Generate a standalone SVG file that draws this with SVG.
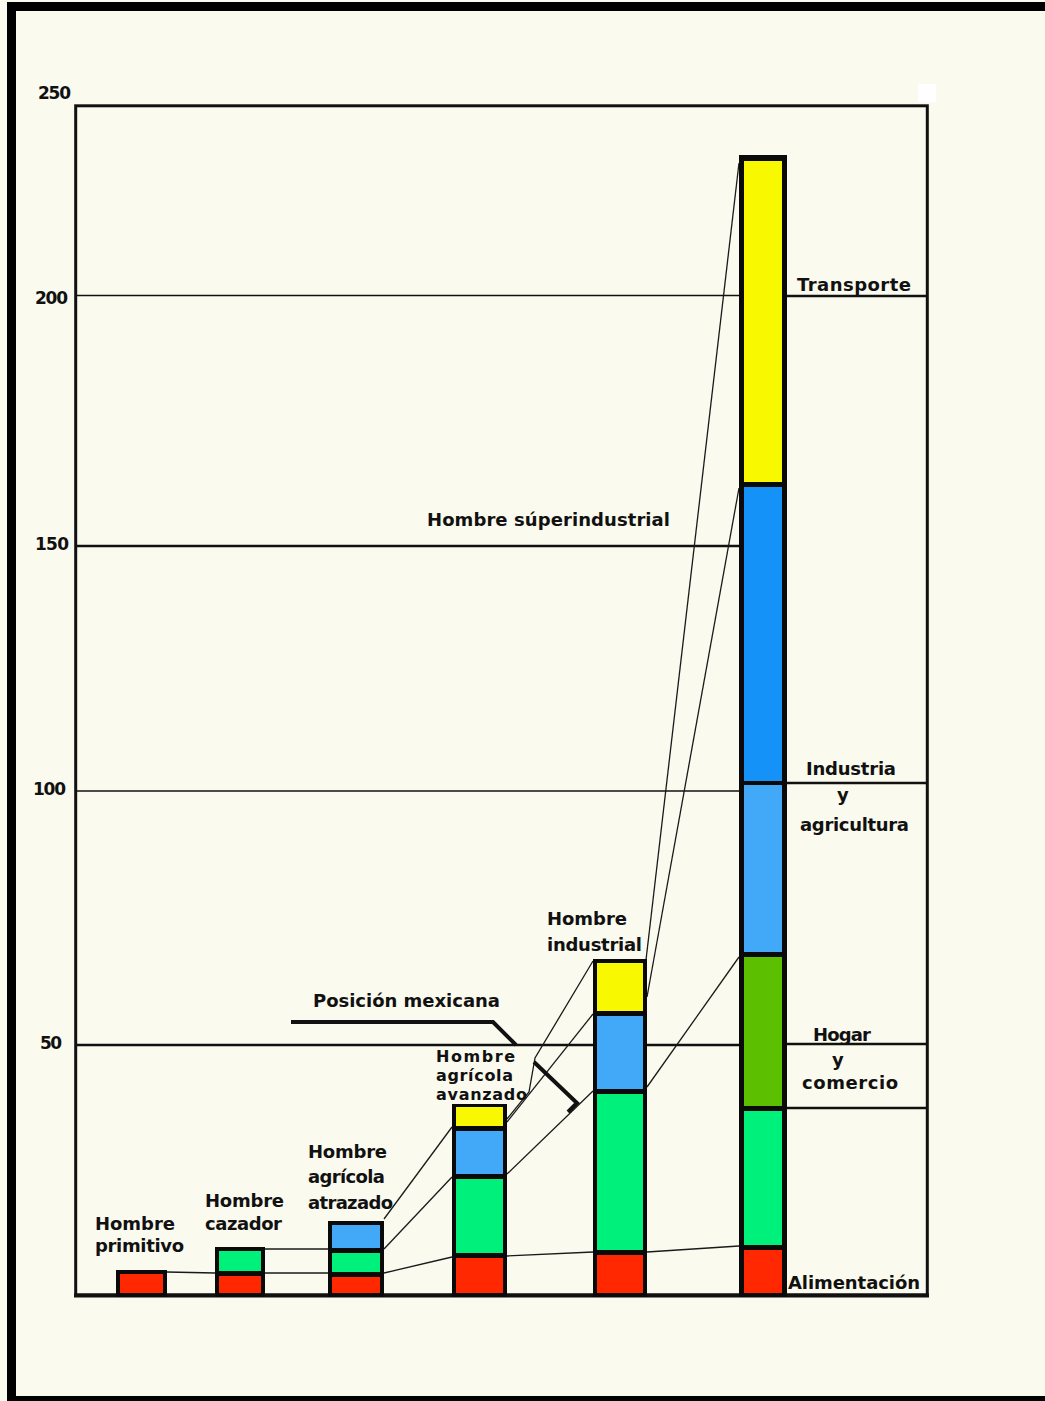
<svg xmlns="http://www.w3.org/2000/svg" width="1045" height="1401" viewBox="0 0 1045 1401">
<style>
.t{font-family:"DejaVu Sans","Liberation Sans",sans-serif;font-weight:bold;font-size:18px;fill:#111}
.ts{font-family:"DejaVu Sans","Liberation Sans",sans-serif;font-weight:bold;font-size:16px;fill:#111}
.ax{font-family:"DejaVu Sans","Liberation Sans",sans-serif;font-weight:bold;font-size:17px;fill:#111}
.c{stroke:#1a1a1a;stroke-width:1.3;fill:none}
.g{stroke:#111;fill:none}
.ptr{stroke:#111;stroke-width:4;fill:none;stroke-linejoin:miter}
.k{fill:#0a0a0a}
.y{fill:#F8F800}.b{fill:#1492F8}.lb{fill:#42A8F8}.dg{fill:#5CC000}.lg{fill:#00F07C}.r{fill:#FF2800}
</style>
<rect width="1045" height="1401" fill="#FAFAEE"/>
<g id="frame">
<rect x="7" y="2" width="1038" height="9" fill="#000"/>
<rect x="7" y="2" width="9" height="1399" fill="#000"/>
<rect x="7" y="1396" width="1038" height="5" fill="#000"/>
<rect x="918" y="84" width="18" height="18" fill="#fff"/>
</g>
<g id="grid">
<line class="g" x1="77" y1="295.5" x2="739" y2="295.5" stroke-width="1.5"/>
<line class="g" x1="77" y1="546" x2="739" y2="546" stroke-width="2.5"/>
<line class="g" x1="77" y1="791" x2="739" y2="791" stroke-width="1.5"/>
<line class="g" x1="77" y1="1045" x2="739" y2="1045" stroke-width="2.5"/>
<line class="g" x1="787" y1="296" x2="926" y2="296" stroke-width="2.5"/>
<line class="g" x1="787" y1="783" x2="926" y2="783" stroke-width="2.5"/>
<line class="g" x1="787" y1="1044" x2="926" y2="1044" stroke-width="2.5"/>
<line class="g" x1="787" y1="1108" x2="926" y2="1108" stroke-width="2.5"/>
<rect class="g" x="75.7" y="105.8" width="851.6" height="1189.2" stroke-width="3"/>
<line class="g" x1="74" y1="1295.5" x2="929" y2="1295.5" stroke-width="4"/>
</g>
<g id="axis-labels">
<text class="ax" x="38" y="99" textLength="33">250</text>
<text class="ax" x="35" y="304" textLength="33">200</text>
<text class="ax" x="35" y="550" textLength="34">150</text>
<text class="ax" x="33" y="795" textLength="33">100</text>
<text class="ax" x="40" y="1049" textLength="22">50</text>
</g>
<g id="connectors">
<line class="c" x1="167" y1="1272" x2="215" y2="1273"/>
<line class="c" x1="265" y1="1273" x2="328" y2="1273"/>
<line class="c" x1="265" y1="1249" x2="328" y2="1249"/>
<line class="c" x1="384" y1="1273" x2="452" y2="1257"/>
<line class="c" x1="384" y1="1249" x2="452" y2="1177"/>
<line class="c" x1="384" y1="1219" x2="452" y2="1127"/>
<line class="c" x1="507" y1="1256" x2="593" y2="1252"/>
<line class="c" x1="507" y1="1174" x2="593" y2="1091"/>
<line class="c" x1="507" y1="1122" x2="593" y2="1014"/>
<polyline class="c" points="507,1119 529,1092 535,1058 593,961"/>
<line class="c" x1="647" y1="1252" x2="739" y2="1246"/>
<line class="c" x1="647" y1="1087" x2="739" y2="957"/>
<line class="c" x1="647" y1="997" x2="739" y2="488"/>
<line class="c" x1="646" y1="960" x2="739" y2="163"/>
<polyline class="ptr" points="291,1022 493,1022 516,1045"/>
<polyline class="ptr" points="534,1062 577,1103 568,1112"/>
</g>
<g id="bar-primitivo">
<rect class="k" x="116" y="1270" width="51" height="27"/>
<rect class="r" x="120" y="1274" width="43" height="19"/>
<text class="t" x="95" y="1230" textLength="80">Hombre</text>
<text class="t" x="95" y="1252" textLength="89">primitivo</text>
</g>
<g id="bar-cazador">
<rect class="k" x="215" y="1247" width="50" height="50"/>
<rect class="lg" x="219" y="1251" width="42" height="20"/>
<rect class="r" x="219" y="1276" width="42" height="17"/>
<text class="t" x="205" y="1207" textLength="79">Hombre</text>
<text class="t" x="205" y="1230" textLength="77">cazador</text>
</g>
<g id="bar-agricola-atrazado">
<rect class="k" x="328" y="1221" width="56" height="76"/>
<rect class="lb" x="332" y="1225" width="48" height="23"/>
<rect class="lg" x="332" y="1253" width="48" height="19"/>
<rect class="r" x="332" y="1277" width="48" height="16"/>
<text class="t" x="308" y="1158" textLength="79">Hombre</text>
<text class="t" x="308" y="1183" textLength="77">agrícola</text>
<text class="t" x="308" y="1209" textLength="85">atrazado</text>
</g>
<g id="bar-agricola-avanzado">
<rect class="k" x="452" y="1104" width="55" height="193"/>
<rect class="y" x="456" y="1107" width="47" height="19"/>
<rect class="lb" x="456" y="1131" width="47" height="43"/>
<rect class="lg" x="456" y="1179" width="47" height="74"/>
<rect class="r" x="456" y="1258" width="47" height="35"/>
<text class="ts" x="436" y="1062" textLength="79">Hombre</text>
<text class="ts" x="436" y="1081" textLength="77">agrícola</text>
<text class="ts" x="436" y="1100" textLength="91">avanzado</text>
</g>
<g id="posicion-mexicana">
<text class="t" x="313" y="1007" textLength="187">Posición mexicana</text>
</g>
<g id="bar-industrial">
<rect class="k" x="593" y="959" width="54" height="338"/>
<rect class="y" x="597" y="963" width="46" height="48"/>
<rect class="lb" x="597" y="1016" width="46" height="73"/>
<rect class="lg" x="597" y="1094" width="46" height="156"/>
<rect class="r" x="597" y="1255" width="46" height="38"/>
<text class="t" x="547" y="925" textLength="80">Hombre</text>
<text class="t" x="547" y="951" textLength="95">industrial</text>
</g>
<g id="bar-superindustrial">
<rect class="k" x="739" y="155" width="48" height="1142"/>
<rect class="y" x="744" y="161" width="38" height="321"/>
<rect class="b" x="744" y="487" width="38" height="294"/>
<rect class="lb" x="744" y="785" width="38" height="167"/>
<rect class="dg" x="744" y="957" width="38" height="149"/>
<rect class="lg" x="744" y="1111" width="38" height="134"/>
<rect class="r" x="744" y="1250" width="38" height="43"/>
<text class="t" x="427" y="526" textLength="243">Hombre súperindustrial</text>
</g>
<g id="legend">
<text class="t" x="797" y="291" textLength="114">Transporte</text>
<text class="t" x="806" y="775" textLength="90">Industria</text>
<text class="t" x="837" y="801" textLength="14">y</text>
<text class="t" x="800" y="831" textLength="109">agricultura</text>
<text class="t" x="813" y="1041" textLength="58">Hogar</text>
<text class="t" x="832" y="1066" textLength="14">y</text>
<text class="t" x="802" y="1089" textLength="96">comercio</text>
<text class="t" x="788" y="1289" textLength="132">Alimentación</text>
</g>
</svg>
